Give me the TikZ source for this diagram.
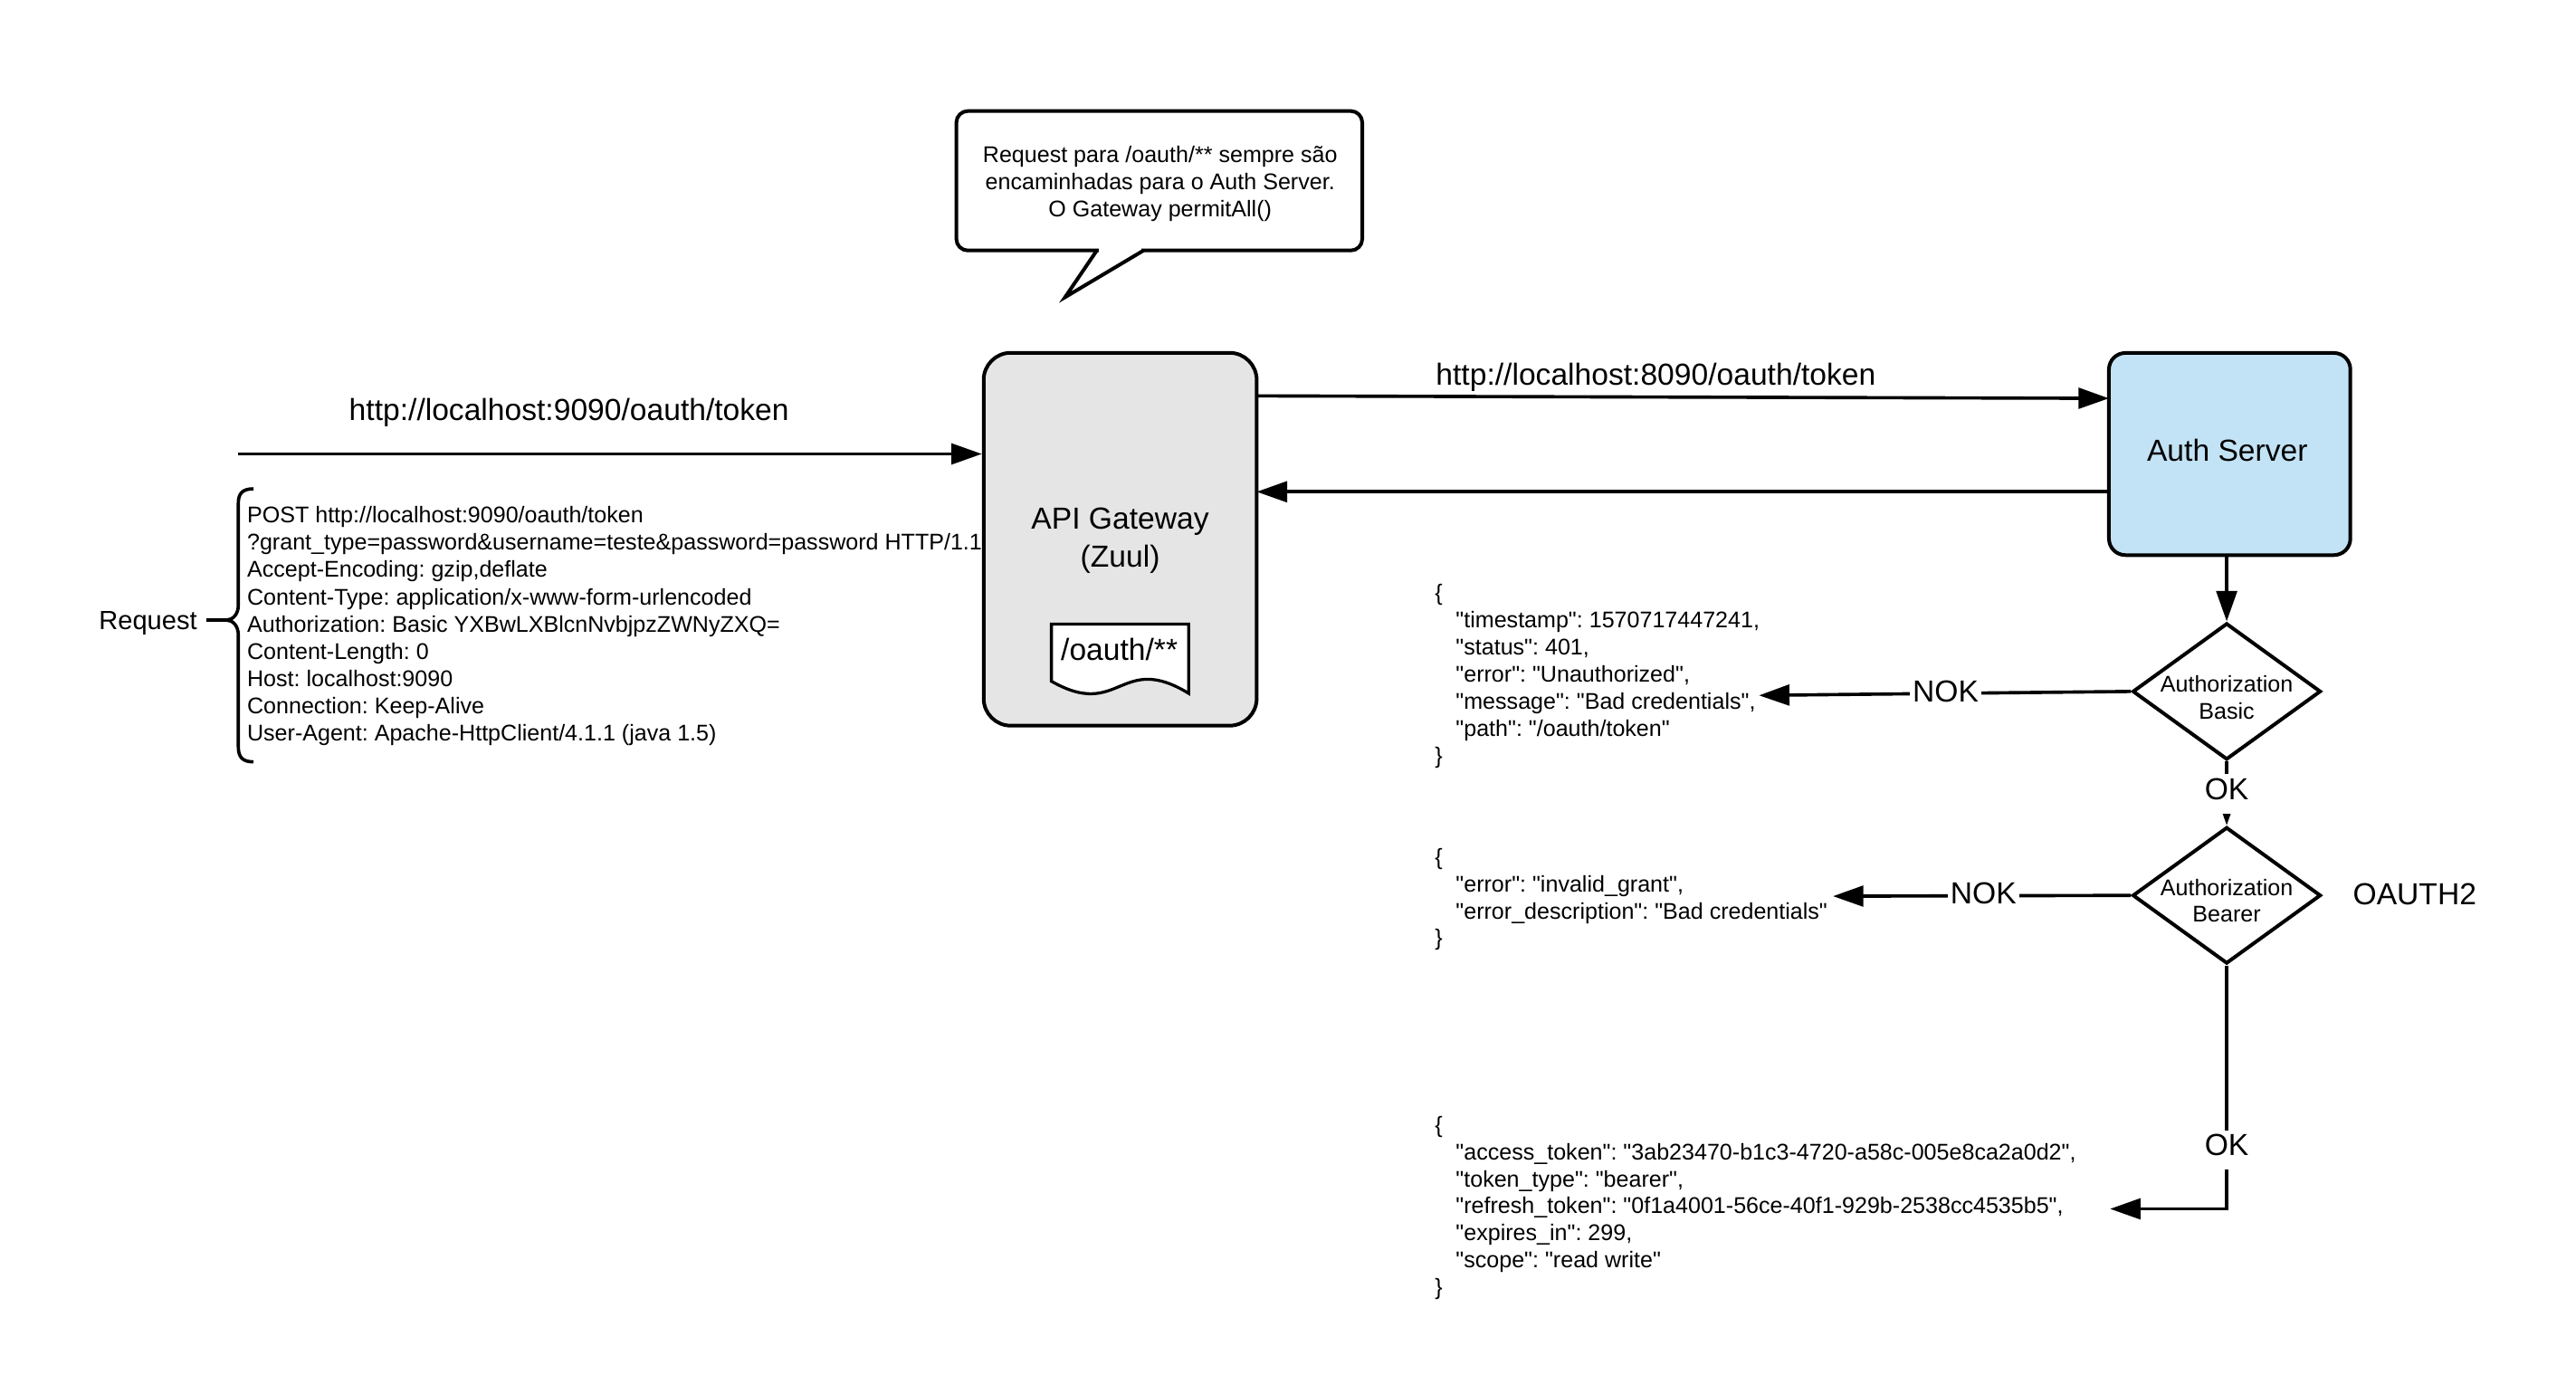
\documentclass[tikz,border=0pt]{standalone}
\usepackage{fontspec}
\setmainfont{Liberation Sans}[Ligatures=TeXOff]
\frenchspacing
\usetikzlibrary{arrows.meta,shapes.geometric}
\definecolor{gwfill}{RGB}{229,229,229}
\definecolor{asfill}{RGB}{194,227,245}
\begin{document}
\frenchspacing
\begin{tikzpicture}[x=1pt,y=-1pt,
  small/.style={font=\fontsize{13.8}{16.55}\selectfont, inner sep=0pt},
  big/.style={font=\fontsize{18.5}{22}\selectfont, inner sep=0pt},
  midtext/.style={font=\fontsize{16}{19}\selectfont, inner sep=0pt},
  shapebox/.style={draw, line width=2.2pt, rounded corners=#1, inner sep=0pt},
  conn/.style={line width=2pt, -{Triangle[length=18.5pt,width=12.5pt]}},
  plainline/.style={line width=2pt},
  lbl/.style={big, fill=white, inner xsep=1.5pt, inner ysep=2.5pt, text depth=6pt},
  dia/.style={draw, diamond, line width=2.2pt, minimum width=114.5pt, minimum height=83pt, inner sep=0pt, fill=white},
]
\path[use as bounding box] (0,0) rectangle (1566.3,841);

% ---------- callout ----------
\node[shapebox=7pt, fill=white, minimum width=246.8pt, minimum height=84.8pt] (call) at (704.9,109.9) {};
\coordinate (tl) at (666.9,152.3);
\coordinate (tr) at (695.3,152.3);
\coordinate (ctip) at (647.6,180.7);
\fill[white] (668.3,150.4) rectangle (693.9,154.6);
\draw[line width=2.2pt, line join=miter] (tl) -- (ctip) -- (tr);
\node[small, anchor=base] (c1) at (705.4,98.6) {Request para /oauth/** sempre são};
\node[small, anchor=base] (c2) at (705.4,115.1) {encaminhadas para o Auth Server.};
\node[small, anchor=base] (c3) at (705.4,131.6) {O Gateway permitAll()};

% ---------- API gateway ----------
\node[shapebox=16.5pt, fill=gwfill, minimum width=166pt, minimum height=226.7pt] (gw) at (681.1,327.85) {};
\node[big, anchor=base] (gwt1) at (681.1,321.7) {API Gateway};
\node[big, anchor=base] (gwt2) at (681.1,344.7) {(Zuul)};
\draw[line width=1.8pt, fill=white] (639.3,379.4) -- (722.8,379.4) -- (722.8,421.6)
   .. controls (681,396) and (681,438) .. (639.3,414.2) -- cycle;
\node[big, anchor=base] (doc) at (680.6,401.6) {/oauth/**};

% ---------- Auth server ----------
\node[shapebox=10pt, fill=asfill, minimum width=146.8pt, minimum height=122.9pt] (auth) at (1355.7,276.05) {};
\node[big, anchor=base] (autht) at (1354.3,280.5) {Auth Server};

% ---------- request ----------
\coordinate (reqstart) at (145,276);
\draw[conn] (reqstart) -- (reqstart -| gw.west);
\node[big, anchor=base] (url1) at (346,255.7) {http://localhost:9090/oauth/token};

\draw[plainline] (154.1,297.2) .. controls (147.5,297.2) and (144.9,300) .. (144.9,306)
   -- (144.9,368) .. controls (144.9,373.5) and (141.5,377) .. (137.6,377)
   .. controls (141.5,377) and (144.9,380.5) .. (144.9,386)
   -- (144.9,454) .. controls (144.9,460.4) and (147.5,463.2) .. (154.1,463.2);
\coordinate (btip) at (137.6,377);
\node[midtext, anchor=base east] (reqlbl) at (120,382.8) {Request};
\draw[plainline] (125.7,377) -- (btip);

\node[small, anchor=base west] (r1) at (150.1,318) {POST http://localhost:9090/oauth/token};
\node[small, anchor=base west] (r2) at (150.1,334.55) {?grant\_type=password\&username=teste\&password=password HTTP/1.1};
\node[small, anchor=base west] (r3) at (150.1,351.1) {Accept-Encoding: gzip,deflate};
\node[small, anchor=base west] (r4) at (150.1,367.65) {Content-Type: application/x-www-form-urlencoded};
\node[small, anchor=base west] (r5) at (150.1,384.2) {Authorization: Basic YXBwLXBlcnNvbjpzZWNyZXQ=};
\node[small, anchor=base west] (r6) at (150.1,400.75) {Content-Length: 0};
\node[small, anchor=base west] (r7) at (150.1,417.3) {Host: localhost:9090};
\node[small, anchor=base west] (r8) at (150.1,433.85) {Connection: Keep-Alive};
\node[small, anchor=base west] (r9) at (150.1,450.4) {User-Agent: Apache-HttpClient/4.1.1 (java 1.5)};

% ---------- gateway <-> auth ----------
\coordinate (g1) at (764.1,240.7);
\coordinate (a1) at (1282.3,242.2);
\draw[conn] (g1) -- (a1);
\node[big, anchor=base west] (url2) at (872.9,233.9) {http://localhost:8090/oauth/token};
\coordinate (a2) at (1282.3,299);
\coordinate (g2) at (764.1,299);
\draw[conn] (a2) -- (g2);

% ---------- decisions ----------
\node[dia] (d1) at (1353.9,420.4) {};
\node[small, anchor=base] (d1t1) at (1353.9,421) {Authorization};
\node[small, anchor=base] (d1t2) at (1353.9,437.3) {Basic};
\node[dia] (d2) at (1353.9,544.4) {};
\node[small, anchor=base] (d2t1) at (1353.9,544.5) {Authorization};
\node[small, anchor=base] (d2t2) at (1353.9,560.6) {Bearer};
\node[big, anchor=base west] (oauth) at (1430.5,549.8) {OAUTH2};

\draw[conn] (auth.south -| d1.north) -- (d1.north);
\draw[conn] (d1.south) -- (d2.north);
\node[lbl, anchor=base] (ok1) at (1353.9,486.1) {OK};

\coordinate (n1) at (1069.5,422.8);
\draw[conn] (d1.west) -- (n1);
\node[lbl, anchor=base] (nok1) at (1183,426.8) {NOK};

\coordinate (n2) at (1114.5,544.9);
\draw[conn] (d2.west) -- (n2);
\node[lbl, anchor=base] (nok2) at (1206,549.7) {NOK};

\coordinate (n3) at (1283,735);
\draw[conn] (d2.south) |- (n3);
\node[lbl, anchor=base] (ok2) at (1353.9,702.6) {OK};

% ---------- JSON responses ----------
\node[small, anchor=base west] (j1a) at (872.3,365.1) {\{};
\node[small, anchor=base west] (j1b) at (885,381.6) {"timestamp": 1570717447241,};
\node[small, anchor=base west] (j1c) at (885,398.1) {"status": 401,};
\node[small, anchor=base west] (j1d) at (885,414.6) {"error": "Unauthorized",};
\node[small, anchor=base west] (j1e) at (885,431.1) {"message": "Bad credentials",};
\node[small, anchor=base west] (j1f) at (885,447.6) {"path": "/oauth/token"};
\node[small, anchor=base west] (j1g) at (872.3,464.1) {\}};

\node[small, anchor=base west] (j2a) at (872.3,525.6) {\{};
\node[small, anchor=base west] (j2b) at (885,542.1) {"error": "invalid\_grant",};
\node[small, anchor=base west] (j2c) at (885,558.6) {"error\_description": "Bad credentials"};
\node[small, anchor=base west] (j2d) at (872.3,575.1) {\}};

\node[small, anchor=base west] (j3a) at (872.3,688.5) {\{};
\node[small, anchor=base west] (j3b) at (885,705) {"access\_token": "3ab23470-b1c3-4720-a58c-005e8ca2a0d2",};
\node[small, anchor=base west] (j3c) at (885,721.5) {"token\_type": "bearer",};
\node[small, anchor=base west] (j3d) at (885,738) {"refresh\_token": "0f1a4001-56ce-40f1-929b-2538cc4535b5",};
\node[small, anchor=base west] (j3e) at (885,754.5) {"expires\_in": 299,};
\node[small, anchor=base west] (j3f) at (885,771) {"scope": "read write"};
\node[small, anchor=base west] (j3g) at (872.3,787.5) {\}};
\end{tikzpicture}
\end{document}
